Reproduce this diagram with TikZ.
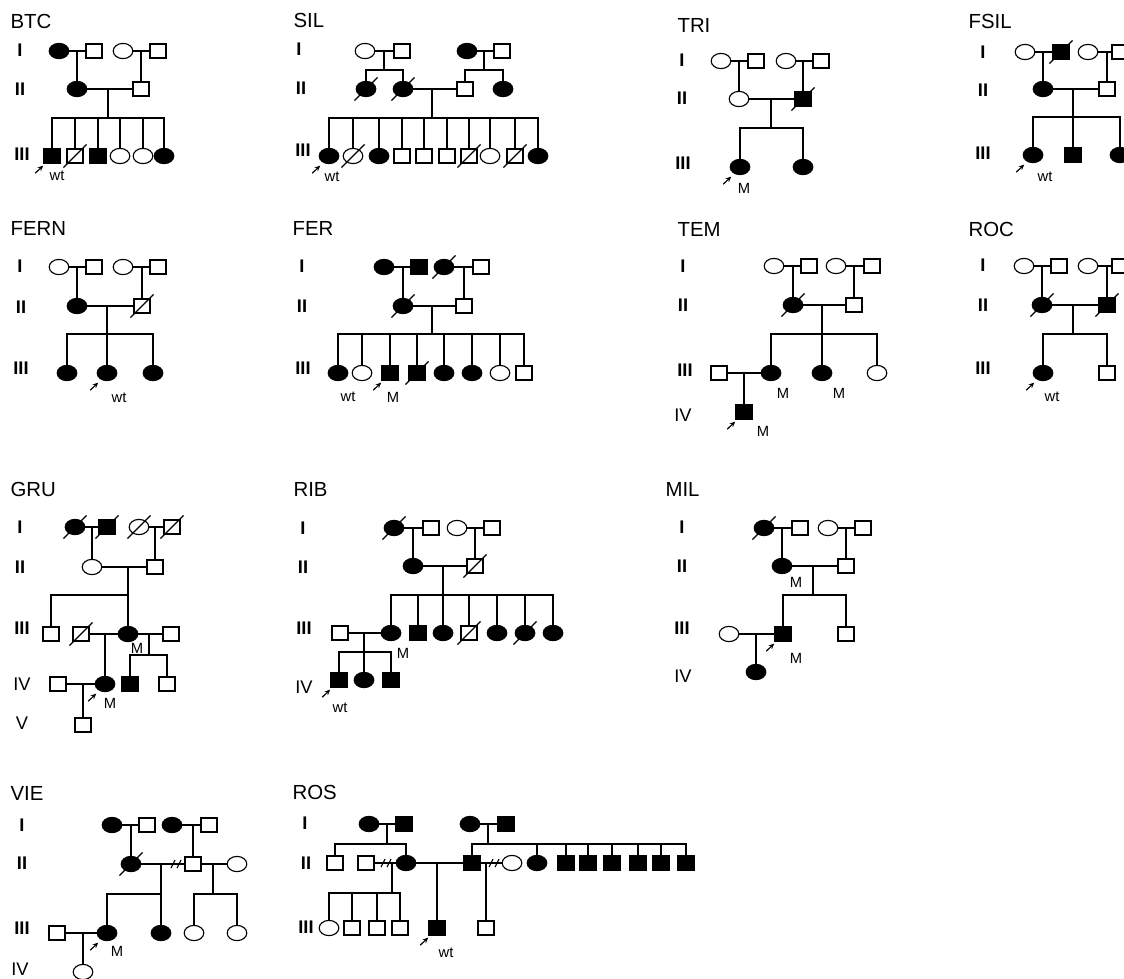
\documentclass[tikz,border=0pt]{standalone}
\usepackage{fontspec}
\setmainfont{Liberation Sans}
\usetikzlibrary{shapes.geometric,arrows.meta}

\begin{document}
\begin{tikzpicture}[x=0.25mm,y=-0.25mm,line width=0.8pt,
    fem/.style={draw,ellipse,minimum width=4.9mm,minimum height=3.8mm,inner sep=0pt},
    femA/.style={fem,fill=black},
    mal/.style={draw,rectangle,minimum width=4mm,minimum height=3.5mm,inner sep=0pt},
    malA/.style={mal,fill=black},
    dead/.style={append after command={\pgfextra{\draw
      ([shift={(-2.9mm,-2.9mm)}]\tikzlastnode.center) --
      ([shift={(2.9mm,2.9mm)}]\tikzlastnode.center);}}},
    prob/.style={append after command={\pgfextra{\draw[-{Stealth[length=4pt,width=3.5pt]}]
      ([shift={(-4.2mm,-4.3mm)}]\tikzlastnode.center) --
      ([shift={(-2.2mm,-2.4mm)}]\tikzlastnode.center);}}},
    ttl/.style={anchor=west,inner sep=0pt,font=\fontsize{14.5}{16}\selectfont},
    gen/.style={inner sep=0pt,font=\bfseries\fontsize{13}{15}\selectfont},
    genr/.style={inner sep=0pt,font=\fontsize{13}{15}\selectfont},
    tag/.style={inner sep=0pt,font=\fontsize{10.5}{12}\selectfont},
    sepmark/.pic={\draw (-5,4) -- (-1,-4) (1,4) -- (5,-4);}]
  \clip (0,0) rectangle (1124,978);
  \fill[white] (0,0) rectangle (1124,978);

  % titles and generations
  \foreach \x/\y/\t [count=\i] in {10/21/BTC, 293/20/SIL, 677/25/TRI, 968/21/FSIL,
    10/228/FERN, 292/228/FER, 677/229/TEM, 968/229/ROC,
    10/489/GRU, 293/489/RIB, 665/489/MIL, 10/793/VIE, 292/792/ROS}
    \node[ttl] (ttl\i) at (\x,\y) {\t};
  \foreach \x/\y/\t [count=\i] in {20/50/I, 20/89/II, 22/154/III,
    299/49/I, 301/88/II, 303/150/III, 682/60/I, 682/98/II, 683/163/III,
    983/52/I, 983/90/II, 983/153/III, 20/266/I, 21/307/II, 21/368/III,
    302/266/I, 302/306/II, 303/368/III, 683/266/I, 683/305/II, 685/370/III,
    983/265/I, 983/305/II, 983/368/III, 20/527/I, 20/567/II, 22/628/III,
    303/528/I, 303/567/II, 304/628/III, 682/527/I, 682/566/II, 682/628/III,
    22/825/I, 22/863/II, 22/928/III, 305/823/I, 306/863/II, 306/927/III}
    \node[gen] (gen\i) at (\x,\y) {\t};
  \foreach \x/\y/\t [count=\i] in {683/415/IV, 22/684/IV, 22/723/V,
    304/687/IV, 683/676/IV, 20/969/IV}
    \node[genr] (genr\i) at (\x,\y) {\t};
  \foreach \x/\y/\t [count=\i] in {57/176/wt, 332/177/wt, 744/188/M, 1045/177/wt,
    119/398/wt, 348/397/wt, 393/397/M, 783/393/M, 839/393/M, 763/431/M,
    1052/397/wt, 137/648/M, 110/703/M, 403/653/M, 340/708/wt, 796/582/M,
    796/658/M, 117/951/M, 446/953/wt}
    \node[tag] (tag\i) at (\x,\y) {\t};

  % BTC
  \node[femA] (btc1a) at (59,51) {};
  \node[mal] (btc1b) at (94,51) {};
  \node[fem] (btc1c) at (123,51) {};
  \node[mal] (btc1d) at (158,51) {};
  \node[femA] (btc2a) at (77,89) {};
  \node[mal] (btc2b) at (141,89) {};
  \node[malA,prob] (btc3a) at (52,156) {};
  \node[mal,dead] (btc3b) at (75,156) {};
  \node[malA] (btc3c) at (98,156) {};
  \node[fem] (btc3d) at (120,156) {};
  \node[fem] (btc3e) at (143,156) {};
  \node[femA] (btc3f) at (164,156) {};
  \coordinate (btcj1) at (77,51);
  \coordinate (btcj2) at (141,51);
  \coordinate (btcj3) at (108,89); \coordinate (btcs3) at (108,118);
  \draw (btc1a) -- (btc1b) (btc1c) -- (btc1d) (btc2a) -- (btc2b);
  \draw (btcj1) -- (btc2a) (btcj2) -- (btc2b) (btcj3) -- (btcs3);
  \foreach \c in {a,...,f} \draw (btc3\c) |- (btcs3);

  % SIL
  \node[fem] (sil1a) at (365,51) {};
  \node[mal] (sil1b) at (402,51) {};
  \node[femA] (sil1c) at (467,51) {};
  \node[mal] (sil1d) at (502,51) {};
  \node[femA,dead] (sil2a) at (366,89) {};
  \node[femA,dead] (sil2b) at (403,89) {};
  \node[mal] (sil2c) at (465,89) {};
  \node[femA] (sil2d) at (503,89) {};
  \node[femA,prob] (sil3a) at (329,156) {};
  \node[fem,dead] (sil3b) at (353,156) {};
  \node[femA] (sil3c) at (379,156) {};
  \node[mal] (sil3d) at (402,156) {};
  \node[mal] (sil3e) at (424,156) {};
  \node[mal] (sil3f) at (447,156) {};
  \node[mal,dead] (sil3g) at (469,156) {};
  \node[fem] (sil3h) at (490,156) {};
  \node[mal,dead] (sil3i) at (515,156) {};
  \node[femA] (sil3j) at (538,156) {};
  \coordinate (silj1) at (384,51); \coordinate (sils1) at (384,70);
  \coordinate (silj2) at (484,51); \coordinate (sils2) at (484,70);
  \coordinate (silj3) at (432,89); \coordinate (sils3) at (432,118);
  \draw (sil1a) -- (sil1b) (sil1c) -- (sil1d) (sil2b) -- (sil2c);
  \draw (silj1) -- (sils1) (silj2) -- (sils2) (silj3) -- (sils3);
  \foreach \c in {a,b} \draw (sil2\c) |- (sils1);
  \foreach \c in {c,d} \draw (sil2\c) |- (sils2);
  \foreach \c in {a,...,j} \draw (sil3\c) |- (sils3);

  % TRI
  \node[fem] (tri1a) at (721,61) {};
  \node[mal] (tri1b) at (756,61) {};
  \node[fem] (tri1c) at (786,61) {};
  \node[mal] (tri1d) at (821,61) {};
  \node[fem] (tri2a) at (739,99) {};
  \node[malA,dead] (tri2b) at (803,99) {};
  \node[femA,prob] (tri3a) at (740,167) {};
  \node[femA] (tri3b) at (803,167) {};
  \coordinate (trij1) at (739,61);
  \coordinate (trij2) at (803,61);
  \coordinate (trij3) at (771,99); \coordinate (tris3) at (771,128);
  \draw (tri1a) -- (tri1b) (tri1c) -- (tri1d) (tri2a) -- (tri2b);
  \draw (trij1) -- (tri2a) (trij2) -- (tri2b) (trij3) -- (tris3);
  \foreach \c in {a,b} \draw (tri3\c) |- (tris3);

  % FSIL
  \node[fem] (fsil1a) at (1025,52) {};
  \node[malA,dead] (fsil1b) at (1061,52) {};
  \node[fem] (fsil1c) at (1088,52) {};
  \node[mal] (fsil1d) at (1120,52) {};
  \node[femA] (fsil2a) at (1043,89) {};
  \node[mal] (fsil2b) at (1107,89) {};
  \node[femA,prob] (fsil3a) at (1033,155) {};
  \node[malA] (fsil3b) at (1073,155) {};
  \node[femA] (fsil3c) at (1120,155) {};
  \coordinate (fsilj1) at (1043,52);
  \coordinate (fsilj2) at (1107,52);
  \coordinate (fsilj3) at (1073,89); \coordinate (fsils3) at (1073,117);
  \draw (fsil1a) -- (fsil1b) (fsil1c) -- (fsil1d) (fsil2a) -- (fsil2b);
  \draw (fsilj1) -- (fsil2a) (fsilj2) -- (fsil2b) (fsilj3) -- (fsils3);
  \foreach \c in {a,b,c} \draw (fsil3\c) |- (fsils3);

  % FERN
  \node[fem] (fern1a) at (59,267) {};
  \node[mal] (fern1b) at (94,267) {};
  \node[fem] (fern1c) at (123,267) {};
  \node[mal] (fern1d) at (158,267) {};
  \node[femA] (fern2a) at (77,306) {};
  \node[mal,dead] (fern2b) at (142,306) {};
  \node[femA] (fern3a) at (67,373) {};
  \node[femA,prob] (fern3b) at (107,373) {};
  \node[femA] (fern3c) at (153,373) {};
  \coordinate (fernj1) at (77,267);
  \coordinate (fernj2) at (142,267);
  \coordinate (fernj3) at (107,306); \coordinate (ferns3) at (107,334);
  \draw (fern1a) -- (fern1b) (fern1c) -- (fern1d) (fern2a) -- (fern2b);
  \draw (fernj1) -- (fern2a) (fernj2) -- (fern2b) (fernj3) -- (ferns3);
  \foreach \c in {a,b,c} \draw (fern3\c) |- (ferns3);

  % FER
  \node[femA] (fer1a) at (384,267) {};
  \node[malA] (fer1b) at (419,267) {};
  \node[femA,dead] (fer1c) at (444,267) {};
  \node[mal] (fer1d) at (481,267) {};
  \node[femA,dead] (fer2a) at (403,306) {};
  \node[mal] (fer2b) at (464,306) {};
  \node[femA] (fer3a) at (338,373) {};
  \node[fem] (fer3b) at (362,373) {};
  \node[malA,prob] (fer3c) at (390,373) {};
  \node[malA,dead] (fer3d) at (417,373) {};
  \node[femA] (fer3e) at (444,373) {};
  \node[femA] (fer3f) at (472,373) {};
  \node[fem] (fer3g) at (500,373) {};
  \node[mal] (fer3h) at (524,373) {};
  \coordinate (ferj1) at (403,267);
  \coordinate (ferj2) at (464,267);
  \coordinate (ferj3) at (432,306); \coordinate (fers3) at (432,334);
  \draw (fer1a) -- (fer1b) (fer1c) -- (fer1d) (fer2a) -- (fer2b);
  \draw (ferj1) -- (fer2a) (ferj2) -- (fer2b) (ferj3) -- (fers3);
  \foreach \c in {a,...,h} \draw (fer3\c) |- (fers3);

  % TEM
  \node[fem] (tem1a) at (774,266) {};
  \node[mal] (tem1b) at (809,266) {};
  \node[fem] (tem1c) at (836,266) {};
  \node[mal] (tem1d) at (872,266) {};
  \node[femA,dead] (tem2a) at (793,305) {};
  \node[mal] (tem2b) at (854,305) {};
  \node[mal] (tem3a) at (719,373) {};
  \node[femA] (tem3b) at (771,373) {};
  \node[femA] (tem3c) at (822,373) {};
  \node[fem] (tem3d) at (877,373) {};
  \node[malA,prob] (tem4a) at (744,412) {};
  \coordinate (temj1) at (793,266);
  \coordinate (temj2) at (854,266);
  \coordinate (temj3) at (822,305); \coordinate (tems3) at (822,334);
  \coordinate (temj4) at (744,373);
  \draw (tem1a) -- (tem1b) (tem1c) -- (tem1d) (tem2a) -- (tem2b) (tem3a) -- (tem3b);
  \draw (temj1) -- (tem2a) (temj2) -- (tem2b) (temj3) -- (tems3) (temj4) -- (tem4a);
  \foreach \c in {b,c,d} \draw (tem3\c) |- (tems3);

  % ROC
  \node[fem] (roc1a) at (1024,266) {};
  \node[mal] (roc1b) at (1059,266) {};
  \node[fem] (roc1c) at (1088,266) {};
  \node[mal] (roc1d) at (1120,266) {};
  \node[femA,dead] (roc2a) at (1042,305) {};
  \node[malA,dead] (roc2b) at (1107,305) {};
  \node[femA,prob] (roc3a) at (1043,373) {};
  \node[mal] (roc3b) at (1107,373) {};
  \coordinate (rocj1) at (1042,266);
  \coordinate (rocj2) at (1107,266);
  \coordinate (rocj3) at (1073,305); \coordinate (rocs3) at (1073,334);
  \draw (roc1a) -- (roc1b) (roc1c) -- (roc1d) (roc2a) -- (roc2b);
  \draw (rocj1) -- (roc2a) (rocj2) -- (roc2b) (rocj3) -- (rocs3);
  \foreach \c in {a,b} \draw (roc3\c) |- (rocs3);

  % GRU
  \node[femA,dead] (gru1a) at (75,527) {};
  \node[malA,dead] (gru1b) at (107,527) {};
  \node[fem,dead] (gru1c) at (139,527) {};
  \node[mal,dead] (gru1d) at (172,527) {};
  \node[fem] (gru2a) at (92,567) {};
  \node[mal] (gru2b) at (155,567) {};
  \node[mal] (gru3a) at (51,634) {};
  \node[mal,dead] (gru3b) at (81,634) {};
  \node[femA] (gru3c) at (128,634) {};
  \node[mal] (gru3d) at (171,634) {};
  \node[mal] (gru4a) at (58,684) {};
  \node[femA,prob] (gru4b) at (105,684) {};
  \node[malA] (gru4c) at (130,684) {};
  \node[mal] (gru4d) at (167,684) {};
  \node[mal] (gru5a) at (83,725) {};
  \coordinate (gruj1) at (92,527);
  \coordinate (gruj2) at (155,527);
  \coordinate (gruj3) at (128,567); \coordinate (grus3) at (128,595);
  \coordinate (gruj4) at (105,634);
  \coordinate (gruj5) at (149,634); \coordinate (grus5) at (149,655);
  \coordinate (gruj6) at (83,684);
  \draw (gru1a) -- (gru1b) (gru1c) -- (gru1d) (gru2a) -- (gru2b)
    (gru3b) -- (gru3c) (gru3c) -- (gru3d) (gru4a) -- (gru4b);
  \draw (gruj1) -- (gru2a) (gruj2) -- (gru2b) (gruj3) -- (grus3)
    (gruj4) -- (gru4b) (gruj5) -- (grus5) (gruj6) -- (gru5a);
  \foreach \c in {a,c} \draw (gru3\c) |- (grus3);
  \foreach \c in {c,d} \draw (gru4\c) |- (grus5);

  % RIB
  \node[femA,dead] (rib1a) at (394,528) {};
  \node[mal] (rib1b) at (431,528) {};
  \node[fem] (rib1c) at (457,528) {};
  \node[mal] (rib1d) at (492,528) {};
  \node[femA] (rib2a) at (413,566) {};
  \node[mal,dead] (rib2b) at (475,566) {};
  \node[mal] (rib3a) at (340,633) {};
  \node[femA] (rib3b) at (391,633) {};
  \node[malA] (rib3c) at (418,633) {};
  \node[femA] (rib3d) at (443,633) {};
  \node[mal,dead] (rib3e) at (469,633) {};
  \node[femA] (rib3f) at (497,633) {};
  \node[femA,dead] (rib3g) at (525,633) {};
  \node[femA] (rib3h) at (553,633) {};
  \node[malA,prob] (rib4a) at (339,680) {};
  \node[femA] (rib4b) at (364,680) {};
  \node[malA] (rib4c) at (391,680) {};
  \coordinate (ribj1) at (413,528);
  \coordinate (ribj2) at (475,528);
  \coordinate (ribj3) at (443,566); \coordinate (ribs3) at (443,595);
  \coordinate (ribj4) at (364,633); \coordinate (ribs4) at (364,652);
  \draw (rib1a) -- (rib1b) (rib1c) -- (rib1d) (rib2a) -- (rib2b) (rib3a) -- (rib3b);
  \draw (ribj1) -- (rib2a) (ribj2) -- (rib2b) (ribj3) -- (ribs3) (ribj4) -- (ribs4);
  \foreach \c in {b,...,h} \draw (rib3\c) |- (ribs3);
  \foreach \c in {a,b,c} \draw (rib4\c) |- (ribs4);

  % MIL
  \node[femA,dead] (mil1a) at (764,528) {};
  \node[mal] (mil1b) at (800,528) {};
  \node[fem] (mil1c) at (828,528) {};
  \node[mal] (mil1d) at (863,528) {};
  \node[femA] (mil2a) at (782,566) {};
  \node[mal] (mil2b) at (846,566) {};
  \node[fem] (mil3a) at (729,634) {};
  \node[malA,prob] (mil3b) at (783,634) {};
  \node[mal] (mil3c) at (846,634) {};
  \node[femA] (mil4a) at (756,672) {};
  \coordinate (milj1) at (782,528);
  \coordinate (milj2) at (846,528);
  \coordinate (milj3) at (813,566); \coordinate (mils3) at (813,595);
  \coordinate (milj4) at (756,634);
  \draw (mil1a) -- (mil1b) (mil1c) -- (mil1d) (mil2a) -- (mil2b) (mil3a) -- (mil3b);
  \draw (milj1) -- (mil2a) (milj2) -- (mil2b) (milj3) -- (mils3) (milj4) -- (mil4a);
  \foreach \c in {b,c} \draw (mil3\c) |- (mils3);

  % VIE
  \node[femA] (vie1a) at (112,825) {};
  \node[mal] (vie1b) at (147,825) {};
  \node[femA] (vie1c) at (172,825) {};
  \node[mal] (vie1d) at (209,825) {};
  \node[femA,dead] (vie2a) at (131,864) {};
  \node[mal] (vie2b) at (193,864) {};
  \node[fem] (vie2c) at (237,864) {};
  \node[mal] (vie3a) at (57,933) {};
  \node[femA,prob] (vie3b) at (107,933) {};
  \node[femA] (vie3c) at (161,933) {};
  \node[fem] (vie3d) at (194,933) {};
  \node[fem] (vie3e) at (237,933) {};
  \node[fem] (vie4a) at (83,972) {};
  \coordinate (viej1) at (131,825);
  \coordinate (viej2) at (193,825);
  \coordinate (viej3) at (161,864); \coordinate (vies3) at (161,894);
  \coordinate (viej4) at (213,864); \coordinate (vies4) at (213,894);
  \coordinate (viej5) at (83,933);
  \draw (vie1a) -- (vie1b) (vie1c) -- (vie1d) (vie2a) -- (vie2b) (vie2b) -- (vie2c)
    (vie3a) -- (vie3b);
  \draw (viej1) -- (vie2a) (viej2) -- (vie2b) (viej3) -- (vies3) (viej4) -- (vies4)
    (viej5) -- (vie4a);
  \foreach \c in {b,c} \draw (vie3\c) |- (vies3);
  \foreach \c in {d,e} \draw (vie3\c) |- (vies4);
  \pic at (176,864) {sepmark};

  % ROS
  \node[femA] (ros1a) at (369,824) {};
  \node[malA] (ros1b) at (404,824) {};
  \node[femA] (ros1c) at (470,824) {};
  \node[malA] (ros1d) at (506,824) {};
  \node[mal] (ros2a) at (335,863) {};
  \node[mal] (ros2b) at (366,863) {};
  \node[femA] (ros2c) at (406,863) {};
  \node[malA] (ros2d) at (472,863) {};
  \node[fem] (ros2e) at (512,863) {};
  \node[femA] (ros2f) at (537,863) {};
  \node[malA] (ros2g) at (566,863) {};
  \node[malA] (ros2h) at (588,863) {};
  \node[malA] (ros2i) at (612,863) {};
  \node[malA] (ros2j) at (638,863) {};
  \node[malA] (ros2k) at (661,863) {};
  \node[malA] (ros2l) at (686,863) {};
  \node[fem] (ros3a) at (329,928) {};
  \node[mal] (ros3b) at (352,928) {};
  \node[mal] (ros3c) at (377,928) {};
  \node[mal] (ros3d) at (400,928) {};
  \node[malA,prob] (ros3e) at (437,928) {};
  \node[mal] (ros3f) at (486,928) {};
  \coordinate (rosj1) at (387,824); \coordinate (ross1) at (387,844);
  \coordinate (rosj2) at (488,824); \coordinate (ross2) at (488,844);
  \coordinate (rosj3) at (392,863); \coordinate (ross3) at (392,893);
  \coordinate (rosj4) at (437,863);
  \coordinate (rosj5) at (486,863);
  \draw (ros1a) -- (ros1b) (ros1c) -- (ros1d) (ros2b) -- (ros2c) (ros2c) -- (ros2d)
    (ros2d) -- (ros2e);
  \draw (rosj1) -- (ross1) (rosj2) -- (ross2) (rosj3) -- (ross3) (rosj4) -- (ros3e)
    (rosj5) -- (ros3f);
  \foreach \c in {a,c} \draw (ros2\c) |- (ross1);
  \foreach \c in {d,f,g,h,i,j,k,l} \draw (ros2\c) |- (ross2);
  \foreach \c in {a,...,d} \draw (ros3\c) |- (ross3);
  \pic at (386,863) {sepmark};
  \pic at (494,863) {sepmark};
\end{tikzpicture}
\end{document}
